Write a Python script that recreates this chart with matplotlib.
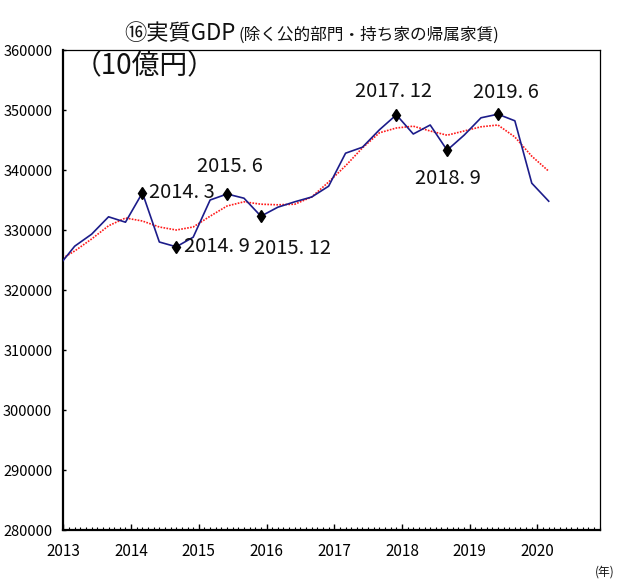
import matplotlib
matplotlib.use("Agg")
import matplotlib.pyplot as plt
from matplotlib.ticker import MultipleLocator, FixedLocator

plt.rcParams['font.family'] = ['Liberation Sans Narrow', 'Noto Sans CJK JP', 'DejaVu Sans']

# ---- data (quarter-end month labels) ----
quarters = ['2012.12',
            '2013.3', '2013.6', '2013.9', '2013.12',
            '2014.3', '2014.6', '2014.9', '2014.12',
            '2015.3', '2015.6', '2015.9', '2015.12',
            '2016.3', '2016.6', '2016.9', '2016.12',
            '2017.3', '2017.6', '2017.9', '2017.12',
            '2018.3', '2018.6', '2018.9', '2018.12',
            '2019.3', '2019.6', '2019.9', '2019.12',
            '2020.3']
gdp = [323800,
       327300, 329300, 332200, 331300,
       336200, 328000, 327200, 328800,
       335000, 336000, 335300, 332300,
       333800, 334700, 335500, 337300,
       342800, 343800, 346700, 349200,
       346000, 347500, 343300, 345800,
       348700, 349300, 348200, 337800,
       334800]
trend = [324800,
         326500, 328500, 330700, 332000,
         331500, 330500, 330000, 330500,
         332300, 334000, 334700, 334300,
         334200, 334300, 335500, 338000,
         340700, 343700, 346200, 347000,
         347300, 346500, 345800, 346500,
         347200, 347500, 345500, 342300,
         339800]
marked = ['2014.3', '2014.9', '2015.6', '2015.12', '2017.12', '2018.9', '2019.6']
year_ticks = [2013, 2014, 2015, 2016, 2017, 2018, 2019, 2020]
y_ticks = [280000, 290000, 300000, 310000, 320000, 330000, 340000, 350000, 360000]

def to_x(q):
    y, m = q.split('.')
    return int(y) + (int(m) - 1) / 12.0

xs = [to_x(q) for q in quarters]

W, H = 617, 579
fig = plt.figure(figsize=(W / 100, H / 100), dpi=100)
ax = fig.add_axes([63.4 / W, 1 - 530 / H, (599.5 - 63.4) / W, (530 - 50) / H])

ax.plot(xs, trend, color='#ff1a1a', lw=1.2, ls=(0, (1, 0.8)), zorder=2)
ax.plot(xs, gdp, color='#1c1c8a', lw=1.2, zorder=3)

mx = [to_x(q) for q in marked]
my = [gdp[quarters.index(q)] for q in marked]
ax.plot(mx, my, ls='none', marker='d', ms=6.5, color='black', zorder=4)

# label text (offsets in pixels from the point)
offsets = {
    '2014.3': (7, 0, 'left', 'center'),
    '2014.9': (8, 0, 'left', 'center'),
    '2015.6': (3, 27, 'center', 'center'),
    '2015.12': (-7, -32, 'left', 'center'),
    '2017.12': (-3, 23, 'center', 'center'),
    '2018.9': (1, -28, 'center', 'center'),
    '2019.6': (8, 22, 'center', 'center'),
}
for q, xv, yv in zip(marked, mx, my):
    dx, dy, ha, va = offsets[q]
    y_, m_ = q.split('.')
    ax.annotate(f"{y_}. {m_}", xy=(xv, yv), xytext=(dx, dy), textcoords='offset pixels',
                ha=ha, va=va, fontsize=14.5, color='#111111', zorder=5)

ax.set_xlim(2013, 2021 - 1 / 12)
ax.set_ylim(280000, 360000)
ax.xaxis.set_major_locator(FixedLocator(year_ticks))
ax.xaxis.set_minor_locator(MultipleLocator(1 / 12))
ax.set_xticklabels([str(y) for y in year_ticks])
ax.yaxis.set_major_locator(FixedLocator(y_ticks))
ax.set_yticklabels([str(v) for v in y_ticks])

ax.tick_params(axis='x', which='major', direction='in', length=4, width=1, pad=9,
               labelsize=11, top=False)
ax.tick_params(axis='x', which='minor', direction='in', length=2.2, width=0.8, top=False)
ax.tick_params(axis='y', which='major', direction='in', length=2.5, width=1, pad=8,
               labelsize=10.5, right=False)

for s in ['left', 'bottom']:
    ax.spines[s].set_linewidth(1.6)
for s in ['top', 'right']:
    ax.spines[s].set_linewidth(0.9)

# title
fig.text(124 / W, 1 - 40 / H, '⑯実質GDP', fontsize=16, ha='left', va='baseline', color='#111111')
fig.text(239 / W, 1 - 40 / H, '(除く公的部門・持ち家の帰属家賃)', fontsize=12, ha='left',
         va='baseline', color='#111111')
fig.text(74 / W, 1 - 66 / H, '（10億円）', fontsize=20, ha='left', va='center', color='#111111')
fig.text(615 / W, 1 - 572 / H, '(年)', fontsize=8.5, ha='right', va='center', color='#111111')

fig.savefig('out.png', dpi=100)
